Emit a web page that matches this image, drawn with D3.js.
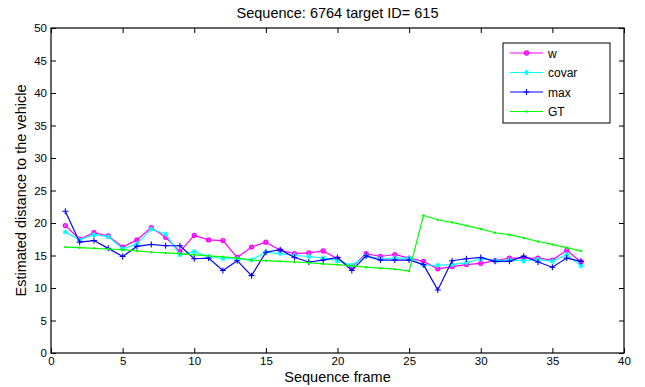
<!DOCTYPE html>
<html>
<head>
<meta charset="utf-8">
<script src="https://cdn.jsdelivr.net/npm/d3@7"></script>
<style>
  body { margin: 0; background: #fff; }
  svg { display: block; font-family: "Liberation Sans", Arial, sans-serif; }
</style>
</head>
<body>
<div id="chart"></div>
<script>
// values
const frames = d3.range(1, 38);
const wVals = [19.6, 17.5, 18.5, 18.0, 16.3, 17.4, 19.3, 17.8, 15.6, 18.1, 17.4, 17.3, 14.7,
  16.3, 17.05, 15.8, 15.3, 15.4, 15.7, 14.5, 13.2, 15.3, 14.85, 15.15, 14.6, 14.1, 12.95,
  13.3, 13.6, 13.8, 14.2, 14.6, 14.6, 14.6, 14.3, 15.8, 14.0];
const covarVals = [18.6, 17.4, 18.2, 17.9, 16.0, 16.8, 19.05, 18.3, 15.1, 15.6, 14.85, 14.5, 14.5,
  14.3, 15.5, 15.3, 15.0, 14.85, 14.6, 14.2, 13.5, 14.9, 14.5, 14.6, 14.6, 13.5, 13.5,
  13.6, 13.9, 14.5, 14.2, 14.3, 14.2, 14.4, 14.1, 15.15, 13.4];
const maxVals = [21.8, 17.05, 17.3, 16.1, 14.85, 16.4, 16.7, 16.5, 16.5, 14.5, 14.6, 12.7, 14.2,
  11.9, 15.5, 15.9, 14.7, 14.0, 14.3, 14.7, 12.7, 14.95, 14.3, 14.3, 14.3, 13.6, 9.7,
  14.2, 14.5, 14.7, 14.1, 14.1, 14.9, 14.0, 13.2, 14.6, 14.1];
const gtVals = [16.3, 16.2, 16.1, 16.0, 15.9, 15.7, 15.5, 15.4, 15.3, 15.1, 14.95, 14.8, 14.6,
  14.3, 14.2, 14.1, 14.0, 13.9, 13.7, 13.6, 13.4, 13.2, 13.05, 12.9, 12.6, 21.15, 20.5,
  20.1, 19.6, 19.1, 18.5, 18.2, 17.7, 17.15, 16.7, 16.2, 15.7];
const seriesNames = ["w", "covar", "max", "GT"];
const seriesColors = ["#ff00ff", "#00ffff", "#0000ff", "#00ff00"];
const seriesMarkers = ["circle", "star", "plus", "dot"];
const xTicks = d3.range(0, 41, 5);
const yTicks = d3.range(0, 51, 5);

const allSeries = [wVals, covarVals, maxVals, gtVals];

const width = 645, height = 387;
const margin = { left: 51, right: 21, top: 28, bottom: 34 };
const iw = width - margin.left - margin.right;
const ih = height - margin.top - margin.bottom;

const x = d3.scaleLinear().domain([0, 40]).range([0, iw]);
const y = d3.scaleLinear().domain([0, 50]).range([ih, 0]);

const svg = d3.select("#chart").append("svg")
    .attr("width", width)
    .attr("height", height);

svg.append("text")
    .attr("x", margin.left + iw / 2)
    .attr("y", 18)
    .attr("text-anchor", "middle")
    .style("font-size", "14.5px")
    .text("Sequence: 6764 target ID= 615");

const g = svg.append("g").attr("transform", `translate(${margin.left},${margin.top})`);

// axes with inward ticks, mirrored on top and right like matlab
const tickLen = 5;
g.append("g")
    .attr("transform", `translate(0,${ih})`)
    .call(d3.axisBottom(x).tickValues(xTicks).tickSize(-tickLen).tickPadding(4))
    .call(a => a.select(".domain").remove());
g.append("g")
    .call(d3.axisTop(x).tickValues(xTicks).tickSize(-tickLen).tickFormat(""))
    .call(a => a.select(".domain").remove());
g.append("g")
    .call(d3.axisLeft(y).tickValues(yTicks).tickSize(-tickLen).tickPadding(4))
    .call(a => a.select(".domain").remove());
g.append("g")
    .attr("transform", `translate(${iw},0)`)
    .call(d3.axisRight(y).tickValues(yTicks).tickSize(-tickLen).tickFormat(""))
    .call(a => a.select(".domain").remove());

g.selectAll(".tick text").style("font-size", "11.5px").attr("fill", "#000");
g.selectAll(".tick line").attr("stroke", "#000");

g.append("rect")
    .attr("width", iw).attr("height", ih)
    .attr("fill", "none").attr("stroke", "#000").attr("stroke-width", 1.2);

function drawMarker(sel, kind, color) {
  if (kind === "circle") {
    sel.append("circle").attr("r", 2).attr("fill", color).attr("fill-opacity", 0.5)
      .attr("stroke", color).attr("stroke-width", 1.3);
  } else if (kind === "star") {
    sel.append("path").attr("d", "M-2.5,0H2.5M0,-2.5V2.5M-1.8,-1.8L1.8,1.8M-1.8,1.8L1.8,-1.8")
      .attr("stroke", color).attr("stroke-width", 1.1);
  } else if (kind === "plus") {
    sel.append("path").attr("d", "M-3,0H3M0,-3V3")
      .attr("stroke", color).attr("stroke-width", 1.1);
  } else {
    sel.append("circle").attr("r", 1.2).attr("fill", color);
  }
}

const line = d3.line().x((d, i) => x(frames[i])).y(d => y(d));

allSeries.forEach((vals, si) => {
  const color = seriesColors[si];
  g.append("path")
      .datum(vals)
      .attr("fill", "none")
      .attr("stroke", color)
      .attr("stroke-width", 1.2)
      .attr("d", line);
  g.append("g").selectAll("g")
    .data(vals)
    .join("g")
      .attr("transform", (d, i) => `translate(${x(frames[i])},${y(d)})`)
      .each(function() { drawMarker(d3.select(this), seriesMarkers[si], color); });
});

// legend
const lg = svg.append("g").attr("transform", "translate(503,43)");
lg.append("rect").attr("width", 107).attr("height", 80)
    .attr("fill", "#fff").attr("stroke", "#000").attr("stroke-width", 1);
seriesNames.forEach((name, i) => {
  const ly = 10 + i * 19.5;
  lg.append("line").attr("x1", 7).attr("x2", 40).attr("y1", ly).attr("y2", ly)
    .attr("stroke", seriesColors[i]).attr("stroke-width", 1.2);
  const m = lg.append("g").attr("transform", `translate(23.5,${ly})`);
  drawMarker(m, seriesMarkers[i], seriesColors[i]);
  lg.append("text").attr("x", 45).attr("y", ly + 4.5)
    .style("font-size", "12px").text(name);
});

svg.append("text")
    .attr("x", margin.left + iw / 2)
    .attr("y", 382)
    .attr("text-anchor", "middle")
    .style("font-size", "14.5px")
    .text("Sequence frame");

svg.append("text")
    .attr("transform", `translate(26,${margin.top + ih / 2}) rotate(-90)`)
    .attr("text-anchor", "middle")
    .style("font-size", "14.5px")
    .text("Estimated distance to the vehicle");
</script>
</body>
</html>
